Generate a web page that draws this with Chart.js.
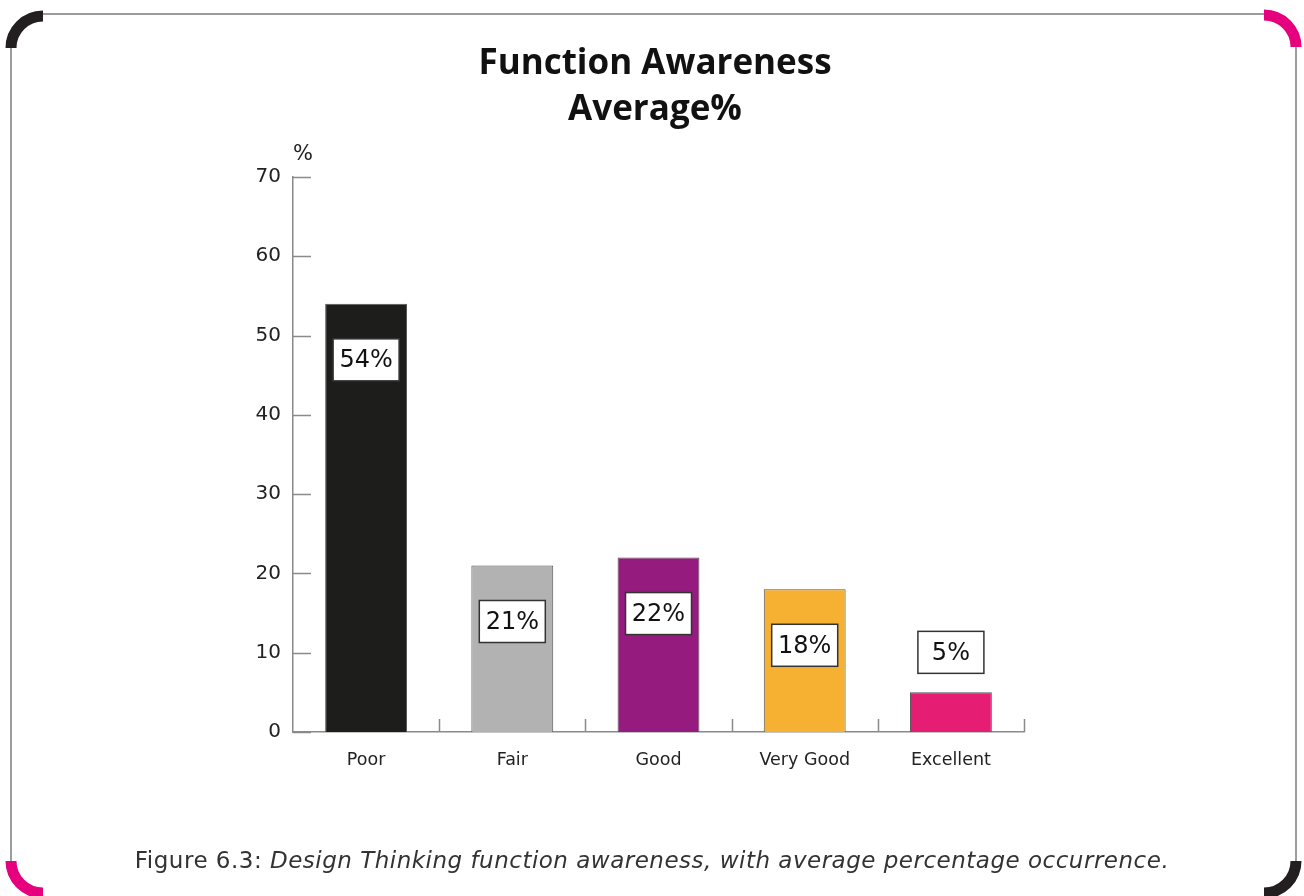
<!DOCTYPE html>
<html>
<head>
<meta charset="utf-8">
<title>Function Awareness</title>
<script src="https://cdn.jsdelivr.net/npm/chart.js@4.4.1/dist/chart.umd.min.js"></script>
<style>
    html, body { margin: 0; padding: 0; background: #ffffff; }
    #wrap { width: 1304px; height: 896px; position: relative; }
</style>
</head>
<body>
<div id="wrap"><canvas id="awarenessChart" width="1304" height="896"></canvas></div>
<script>
// Datos del gráfico
var categorias = ['Poor', 'Fair', 'Good', 'Very Good', 'Excellent'];
var valores = [54, 21, 22, 18, 5];
var etiquetas = ['54%', '21%', '22%', '18%', '5%'];
var colores = ['#1d1d1b', '#b2b2b2', '#951b7f', '#f6b133', '#e61e73'];
var ticksY = [0, 10, 20, 30, 40, 50, 60, 70];
var titulo = ['Function Awareness', 'Average%'];
var leyendaFigura = 'Figure 6.3: ';
var leyendaTexto = 'Design Thinking function awareness, with average percentage occurrence.';

var fuente = '"DejaVu Sans", Verdana, sans-serif';

// Marco con esquinas redondeadas y título
var marcoPlugin = {
    id: 'marco',
    beforeDraw: function(chart) {
        var ctx = chart.ctx;
        ctx.save();
        ctx.fillStyle = '#ffffff';
        ctx.fillRect(0, 0, chart.width, chart.height);

        // lineas del borde
        ctx.strokeStyle = '#9c9c9c';
        ctx.lineWidth = 2;
        ctx.beginPath();
        ctx.moveTo(43, 14); ctx.lineTo(1264, 14);
        ctx.moveTo(11, 47); ctx.lineTo(11, 862);
        ctx.moveTo(1296, 46); ctx.lineTo(1296, 862);
        ctx.stroke();

        // esquinas
        ctx.lineWidth = 11;
        ctx.lineCap = 'butt';
        var esquinas = [
            { x: 43, y: 48, a0: Math.PI, a1: Math.PI * 1.5, c: '#231f20' },
            { x: 1264, y: 47, a0: Math.PI * 1.5, a1: Math.PI * 2, c: '#e6007e' },
            { x: 43, y: 861, a0: Math.PI * 0.5, a1: Math.PI, c: '#e6007e' },
            { x: 1264, y: 861, a0: 0, a1: Math.PI * 0.5, c: '#231f20' }
        ];
        esquinas.forEach(function(e) {
            ctx.strokeStyle = e.c;
            ctx.beginPath();
            ctx.arc(e.x, e.y, 32, e.a0, e.a1);
            ctx.stroke();
        });

        // titulo
        ctx.fillStyle = '#111111';
        ctx.font = 'bold 35px "Open Sans", sans-serif';
        ctx.textAlign = 'center';
        ctx.textBaseline = 'middle';
        ctx.fillText(titulo[0], 655, 64);
        ctx.fillText(titulo[1], 655, 110);

        // unidad del eje y
        var y = chart.scales.y;
        ctx.font = '21px ' + fuente;
        ctx.fillStyle = '#222222';
        ctx.textAlign = 'left';
        ctx.fillText('%', y.right, y.top - 22);

        // pie de figura
        ctx.fillStyle = '#333333';
        ctx.textAlign = 'left';
        ctx.letterSpacing = '0.5px';
        ctx.font = '23px ' + fuente;
        var w1 = ctx.measureText(leyendaFigura).width;
        ctx.font = 'italic 23px ' + fuente;
        var w2 = ctx.measureText(leyendaTexto).width;
        var x0 = 652 - (w1 + w2) / 2;
        ctx.font = '23px ' + fuente;
        ctx.fillText(leyendaFigura, x0, 862);
        ctx.font = 'italic 23px ' + fuente;
        ctx.fillText(leyendaTexto, x0 + w1, 862);
        ctx.restore();
    },
    afterDraw: function(chart) {
        // marcas de los ejes
        var ctx = chart.ctx;
        var x = chart.scales.x;
        var y = chart.scales.y;
        ctx.save();
        ctx.strokeStyle = '#8a8a8a';
        ctx.lineWidth = 1.5;
        ctx.beginPath();
        ticksY.forEach(function(v) {
            var py = Math.round(y.getPixelForValue(v)) + 0.5;
            ctx.moveTo(x.left, py);
            ctx.lineTo(x.left + 18, py);
        });
        var paso = (x.right - x.left) / categorias.length;
        for (var i = 1; i <= categorias.length; i++) {
            var px = Math.round(x.left + paso * i) + 0.5;
            ctx.moveTo(px, y.bottom);
            ctx.lineTo(px, y.bottom - 13);
        }
        ctx.stroke();
        ctx.restore();
    }
};

// Cajas con el porcentaje de cada barra
var etiquetasPlugin = {
    id: 'etiquetasBarras',
    afterDatasetsDraw: function(chart) {
        var ctx = chart.ctx;
        var meta = chart.getDatasetMeta(0);
        ctx.save();
        meta.data.forEach(function(bar, i) {
            var cy = valores[i] > 10 ? bar.y + 56 : bar.y - 40;
            var w = 66, h = 42;
            ctx.fillStyle = '#ffffff';
            ctx.fillRect(bar.x - w / 2, cy - h / 2, w, h);
            ctx.strokeStyle = '#333333';
            ctx.lineWidth = 1.5;
            ctx.strokeRect(bar.x - w / 2, cy - h / 2, w, h);
            ctx.fillStyle = '#111111';
            ctx.font = '24px ' + fuente;
            ctx.textAlign = 'center';
            ctx.textBaseline = 'middle';
            ctx.fillText(etiquetas[i], bar.x, cy + 1);
        });
        ctx.restore();
    }
};

var ctx = document.getElementById('awarenessChart').getContext('2d');
var chart = new Chart(ctx, {
    type: 'bar',
    data: {
        labels: categorias,
        datasets: [{
            data: valores,
            backgroundColor: colores,
            borderColor: '#555555',
            borderWidth: 1,
            barPercentage: 0.56,
            categoryPercentage: 1
        }]
    },
    options: {
        responsive: false,
        animation: false,
        layout: {
            padding: { left: 233, right: 280, top: 177, bottom: 104 }
        },
        plugins: {
            legend: { display: false },
            tooltip: { enabled: false }
        },
        scales: {
            x: {
                grid: { display: false, drawTicks: false },
                border: { display: true, color: '#8a8a8a', width: 1.5 },
                ticks: {
                    color: '#222222',
                    font: { family: fuente, size: 17.5 },
                    padding: 18
                },
                afterFit: function(s) { s.height = 60; }
            },
            y: {
                min: 0,
                max: 70,
                grid: { display: false, drawTicks: false },
                border: { display: true, color: '#8a8a8a', width: 1.5 },
                ticks: {
                    stepSize: 10,
                    color: '#222222',
                    font: { family: fuente, size: 20 },
                    padding: 12
                },
                afterFit: function(s) { s.width = 60; }
            }
        }
    },
    plugins: [marcoPlugin, etiquetasPlugin]
});
</script>
</body>
</html>
